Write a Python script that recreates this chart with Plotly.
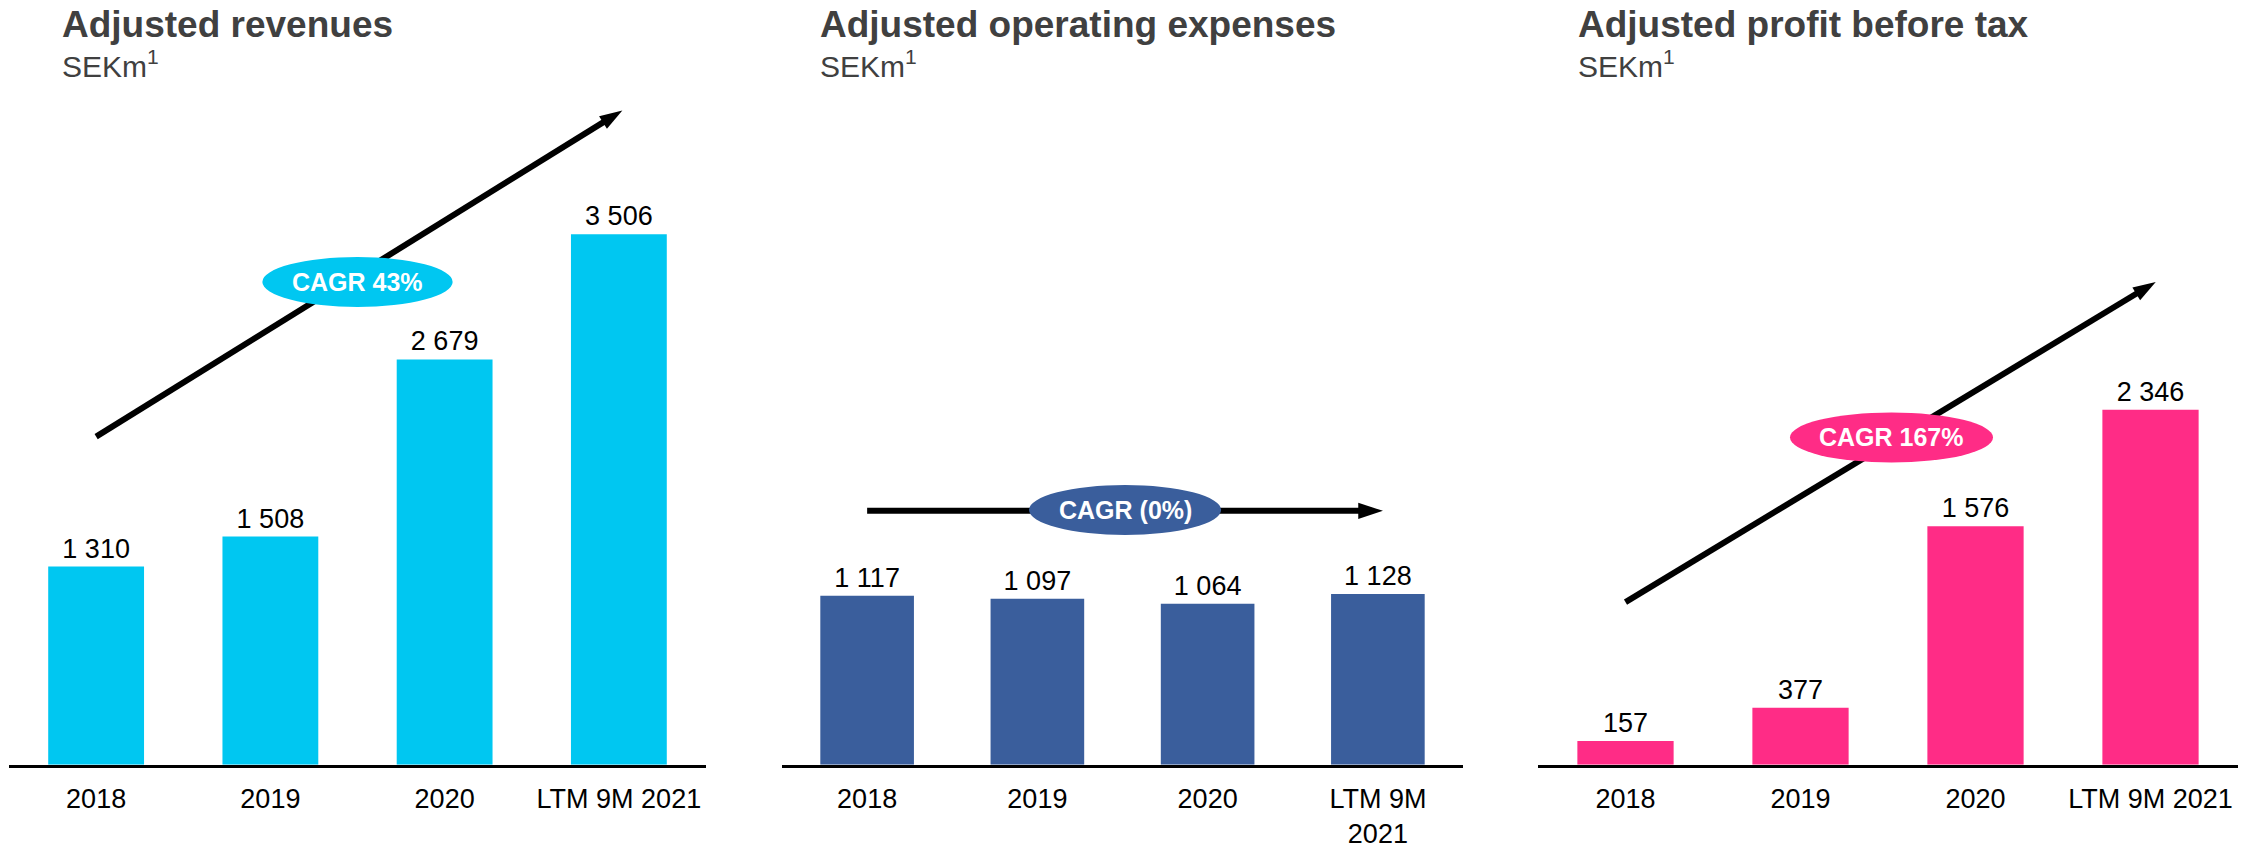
import plotly.graph_objects as go

# ---------------- data ----------------
categories = ["2018", "2019", "2020", "LTM 9M 2021"]
tick_labels_a = ["2018", "2019", "2020", "LTM 9M 2021"]
tick_labels_b = ["2018", "2019", "2020", "LTM 9M<br>2021"]
revenues = [1310, 1508, 2679, 3506]
opex = [1117, 1097, 1064, 1128]
pbt = [157, 377, 1576, 2346]

titles = ["Adjusted revenues", "Adjusted operating expenses", "Adjusted profit before tax"]
subtitle = "SEKm<sup>1</sup>"
cagr_labels = ["CAGR 43%", "CAGR (0%)", "CAGR 167%"]

# ---------------- style ----------------
W, H = 2255, 849
CYAN = "#00C7F1"
BLUE = "#3A5E9C"
PINK = "#FF2C86"
FONT = "Liberation Sans, Arial, sans-serif"
YMAX = 4400
BASE = 772   # pixel row of the axis line
TOP = 100    # pixel row of the plot top

def fmt(v):
    return f"{v:,}".replace(",", " ")

series = [revenues, opex, pbt]
colors = [CYAN, BLUE, PINK]
ticks = [tick_labels_a, tick_labels_b, tick_labels_a]
x_domains = [[9 / W, 706 / W], [782 / W, 1463 / W], [1538 / W, 2238 / W]]
y_domain = [(H - BASE) / H, (H - TOP) / H]
title_x = [60, 818, 1576]

# trend arrows (tail -> head) and CAGR ellipses (centre, half-size), in axis units
arrow_x = [[0, 3.02], [0, 3.03], [0, 3.03]]
arrow_y = [[2169, 4325], [1678, 1678], [1075, 3191]]
arrow_head = [24, 26, 24]
SHAFT_CUT = 0.022  # fraction of arrow length where the shaft stops under the head
ellipses = [((1.5, 3191), (0.546, 165)), ((1.515, 1684), (0.564, 165)), ((1.52, 2163), (0.58, 165))]

fig = go.Figure()
annotations = []
shapes = []

for i in range(3):
    xa = "x" if i == 0 else f"x{i+1}"
    ya = "y" if i == 0 else f"y{i+1}"
    xo = f"x{i+4}"  # linear overlay axis for the trend arrow
    fig.add_trace(go.Bar(
        x=categories, y=series[i], marker=dict(color=colors[i], line=dict(width=0)),
        text=[fmt(v) for v in series[i]], textposition="outside",
        textfont=dict(family=FONT, size=27, color="#000000"),
        cliponaxis=False, xaxis=xa, yaxis=ya, showlegend=False, hoverinfo="skip",
    ))
    # trend arrow: shaft + head
    (x0, x1), (y0, y1) = arrow_x[i], arrow_y[i]
    sx = x1 - (x1 - x0) * SHAFT_CUT
    sy = y1 - (y1 - y0) * SHAFT_CUT
    fig.add_trace(go.Scatter(
        x=[x0, sx], y=[y0, sy], mode="lines",
        line=dict(color="#000000", width=6),
        xaxis=xo, yaxis=ya, showlegend=False, hoverinfo="skip", cliponaxis=False,
    ))
    fig.add_trace(go.Scatter(
        x=[x0, x1], y=[y0, y1], mode="markers",
        marker=dict(symbol="arrow", size=[0, arrow_head[i]], angleref="previous",
                    color="#000000", opacity=1, line=dict(width=0)),
        xaxis=xo, yaxis=ya, showlegend=False, hoverinfo="skip", cliponaxis=False,
    ))
    xkey = "xaxis" if i == 0 else f"xaxis{i+1}"
    ykey = "yaxis" if i == 0 else f"yaxis{i+1}"
    fig.layout[xkey] = dict(
        domain=x_domains[i], anchor=ya, type="category",
        categoryorder="array", categoryarray=categories,
        range=[-0.5, 3.5],
        tickvals=categories, ticktext=ticks[i],
        showline=True, linecolor="#000000", linewidth=3,
        showgrid=False, zeroline=False, ticks="outside", ticklen=8,
        tickcolor="rgba(0,0,0,0)",
        tickfont=dict(family=FONT, size=27, color="#000000"),
        fixedrange=True,
    )
    fig.layout[f"xaxis{i+4}"] = dict(
        domain=x_domains[i], anchor=ya, overlaying=xa, type="linear",
        range=[-0.5, 3.5], visible=False, showgrid=False, zeroline=False, fixedrange=True,
    )
    fig.layout[ykey] = dict(
        domain=y_domain, anchor=xa, range=[0, YMAX], visible=False,
        showgrid=False, zeroline=False, fixedrange=True,
    )
    # title + subtitle
    annotations.append(dict(
        xref="paper", yref="paper", x=title_x[i] / W, y=1 - 25 / H,
        xanchor="left", yanchor="middle", showarrow=False,
        text=f"<b>{titles[i]}</b>", font=dict(family=FONT, size=37, color="#404040"),
    ))
    annotations.append(dict(
        xref="paper", yref="paper", x=title_x[i] / W, y=1 - 65 / H,
        xanchor="left", yanchor="middle", showarrow=False,
        text=subtitle, font=dict(family=FONT, size=30, color="#404040"),
    ))
    # ellipse + label
    (cx, cy), (rx, ry) = ellipses[i]
    shapes.append(dict(
        type="circle", xref=xa, yref=ya, x0=cx - rx, x1=cx + rx, y0=cy - ry, y1=cy + ry,
        fillcolor=colors[i], line=dict(width=0), layer="above",
    ))
    annotations.append(dict(
        xref=xa, yref=ya, x=cx, y=cy, showarrow=False, text=f"<b>{cagr_labels[i]}</b>",
        font=dict(family=FONT, size=25, color="#FFFFFF"), xanchor="center", yanchor="middle",
    ))

fig.update_layout(
    width=W, height=H, autosize=False,
    margin=dict(l=0, r=0, t=0, b=0),
    paper_bgcolor="#FFFFFF", plot_bgcolor="#FFFFFF",
    bargap=0.45, annotations=annotations, shapes=shapes,
    font=dict(family=FONT),
)

fig.write_html("out.html")
